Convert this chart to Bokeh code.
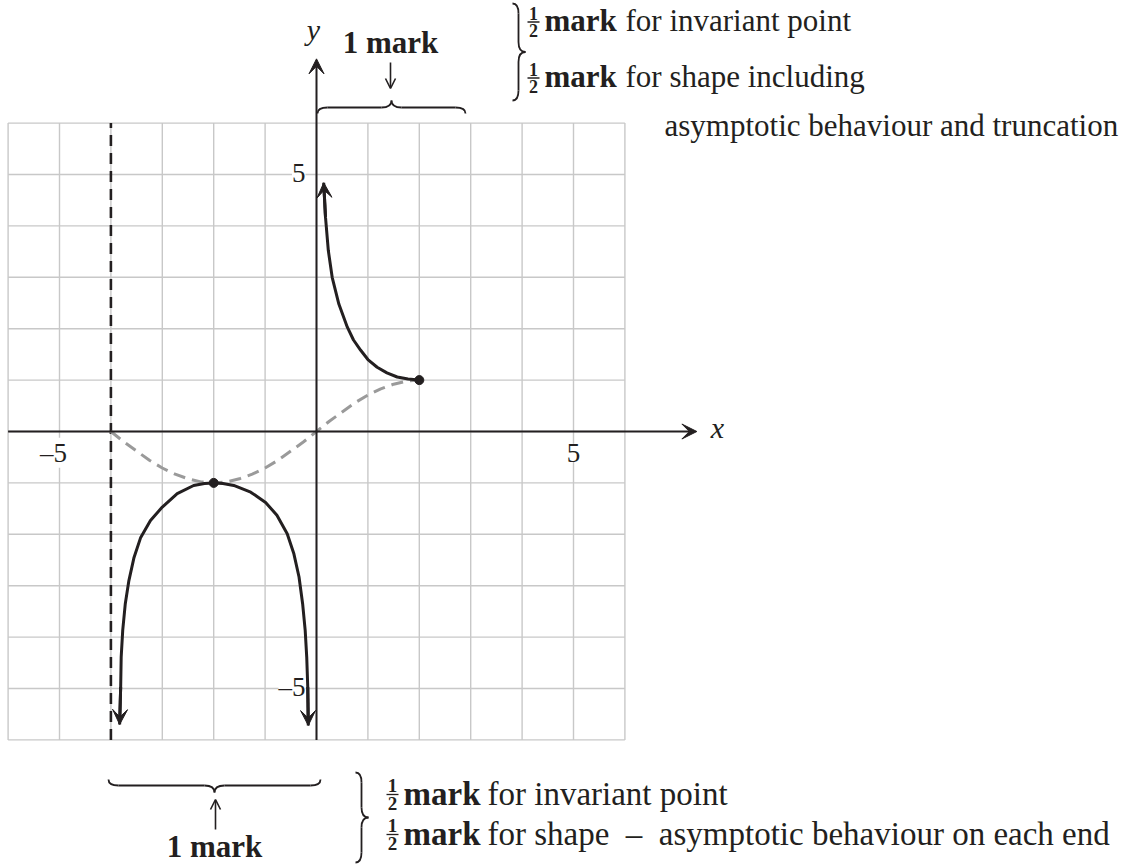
from bokeh.plotting import figure
from bokeh.models import Range1d, Label, Arrow, VeeHead, OpenHead
from bokeh.embed import file_html
from bokeh.resources import INLINE

# ---------------------------------------------------------------- data
grid_ticks = list(range(-6, 7))

x_tick_values = [-5, 5]
x_tick_text = ["–5", "5"]
y_tick_values = [5, -5]
y_tick_text = ["5", "–5"]

asymptote_x = -4

# original function (grey, dashed)
base_x = [-4, -3.75, -3.5, -3.25, -3, -2.75, -2.5, -2.25, -2, -1.75, -1.5, -1.25,
          -1, -0.75, -0.5, -0.25, 0, 0.25, 0.5, 0.75, 1, 1.25, 1.5, 1.75, 2]
base_y = [0, -0.2, -0.38, -0.56, -0.71, -0.83, -0.92, -0.98, -1, -0.98, -0.92, -0.83,
          -0.71, -0.56, -0.38, -0.2, 0, 0.2, 0.38, 0.56, 0.71, 0.83, 0.92, 0.98, 1]

# reciprocal graph, lower branch (between the asymptotes x = -4 and x = 0)
lower_x = [-3.83, -3.81, -3.80, -3.77, -3.72, -3.65, -3.55, -3.42, -3.23, -3.0,
           -2.71, -2.39, -2.18, -2.0, -1.82, -1.61, -1.28, -0.99, -0.77, -0.57,
           -0.44, -0.34, -0.27, -0.22, -0.19, -0.17, -0.16]
lower_y = [-5.7, -4.97, -4.39, -3.87, -3.35, -2.9, -2.45, -2.06, -1.73, -1.47,
           -1.21, -1.05, -1.01, -1.0, -1.01, -1.05, -1.18, -1.38, -1.63, -1.99,
           -2.38, -2.83, -3.35, -3.87, -4.39, -4.97, -5.72]

# reciprocal graph, upper branch (truncated at x = 2)
upper_x = [0.14, 0.175, 0.23, 0.305, 0.435, 0.6, 0.72, 0.86, 1.0, 1.18, 1.37, 1.57, 1.78, 2.0]
upper_y = [4.84, 4.17, 3.52, 3.0, 2.48, 2.03, 1.78, 1.58, 1.4, 1.25, 1.14, 1.06, 1.02, 1.0]

# invariant points
inv_x = [-2, 2]
inv_y = [-1, 1]

# ---------------------------------------------------------------- layout
W, H = 1127, 864
UNIT = 51.4          # pixels per unit on both axes
OX, OY = 316, 431    # canvas position of the origin

INK = "#231f20"
GRID = "#c8c8c8"
GREY = "#9a9a9a"
SERIF = "Liberation Serif"
NB = "\u00a0"


def dx(px):
    return (px - OX) / UNIT


def dy(py):
    return (OY - py) / UNIT


def px_x(x):
    return OX + x * UNIT


def px_y(y):
    return OY - y * UNIT


p = figure(width=W, height=H,
           x_range=Range1d(dx(0), dx(W)), y_range=Range1d(dy(H), dy(0)),
           output_backend="svg", toolbar_location=None,
           x_axis_location=None, y_axis_location=None,
           min_border=0, outline_line_color=None)
p.xgrid.visible = False
p.ygrid.visible = False

# grid
n = len(grid_ticks)
g0, g1 = grid_ticks[0], grid_ticks[-1]
p.segment(x0=grid_ticks, y0=[g0] * n, x1=grid_ticks, y1=[g1] * n,
          line_color=GRID, line_width=1.4, level="image")
p.segment(x0=[g0] * n, y0=grid_ticks, x1=[g1] * n, y1=grid_ticks,
          line_color=GRID, line_width=1.4, level="image")


def txt(px, py, s, size, style="normal", align="left", bg=None, level="annotation"):
    """Text placed by its baseline, given in canvas pixels."""
    lab = Label(x=dx(px), y=dy(py - 0.36 * size), text=s, text_font=SERIF,
                text_font_size=f"{size}px", text_font_style=style,
                text_align=align, text_baseline="alphabetic",
                text_color=INK, level=level)
    if bg:
        lab.background_fill_color = bg
    p.add_layout(lab)


# tick labels sit on white patches that interrupt the grid
for v, s in zip(x_tick_values, x_tick_text):
    txt(px_x(v) - (6 if v < 0 else 0), 462, s, 27, align="center", bg="white",
        level="underlay")
for v, s in zip(y_tick_values, y_tick_text):
    txt(305, px_y(v) + 8.5, s, 27, align="right", bg="white", level="underlay")

# vertical asymptote
p.line([asymptote_x, asymptote_x], [g0, g1], line_color=INK, line_width=2.6,
       line_dash="11 7")

# axes with arrow heads
p.add_layout(Arrow(x_start=g0, y_start=0, x_end=7.4, y_end=0, line_color=INK,
                   line_width=2,
                   end=VeeHead(size=15, fill_color=INK, line_color=INK)))
p.add_layout(Arrow(x_start=0, y_start=g0, x_end=0, y_end=7.25, line_color=INK,
                   line_width=2,
                   end=VeeHead(size=15, fill_color=INK, line_color=INK)))
txt(717, 438, "x", 30, style="italic", align="center")
txt(313, 40, "y", 30, style="italic", align="center")

# original graph and its reciprocal
p.line(base_x, base_y, line_color=GREY, line_width=3, line_dash="12 7")
p.line(lower_x, lower_y, line_color=INK, line_width=3, line_join="round")
p.line(upper_x, upper_y, line_color=INK, line_width=3, line_join="round")
p.scatter(inv_x, inv_y, size=9, fill_color=INK, line_color=INK)

for xs, ys, i in ((lower_x, lower_y, 0), (lower_x, lower_y, -1), (upper_x, upper_y, 0)):
    j = 1 if i == 0 else -2
    p.add_layout(Arrow(x_start=xs[j], y_start=ys[j], x_end=xs[i], y_end=ys[i],
                       line_color=INK, line_width=3,
                       end=VeeHead(size=15, fill_color=INK, line_color=INK)))


# curly braces built from quadratic pieces (pixel geometry -> data)
def brace(a0, a1, flat, out, curl, horizontal, r=10):
    m = (a0 + a1) / 2
    quads = [((a0, flat + curl), (a0 + r, flat), (a0, flat)),
             ((m - r, flat), (m, flat + out), (m, flat)),
             ((m, flat + out), (m + r, flat), (m, flat)),
             ((a1 - r, flat), (a1, flat + curl), (a1, flat))]
    lines = [((a0 + r, flat), (m - r, flat)), ((m + r, flat), (a1 - r, flat))]

    def cv(pt):
        a, c = pt
        return (dx(a), dy(c)) if horizontal else (dx(c), dy(a))

    qs = [tuple(cv(q) for q in quad) for quad in quads]
    p.quadratic(x0=[q[0][0] for q in qs], y0=[q[0][1] for q in qs],
                x1=[q[1][0] for q in qs], y1=[q[1][1] for q in qs],
                cx=[q[2][0] for q in qs], cy=[q[2][1] for q in qs],
                line_color=INK, line_width=1.8)
    ls = [tuple(cv(q) for q in ln) for ln in lines]
    p.segment(x0=[l[0][0] for l in ls], y0=[l[0][1] for l in ls],
              x1=[l[1][0] for l in ls], y1=[l[1][1] for l in ls],
              line_color=INK, line_width=1.8)


def half(cx, bar, size=18):
    """Stacked bold one-half centred on a fraction bar at canvas row `bar`."""
    txt(cx, bar - 2.5, "1", size, style="bold", align="center")
    txt(cx, bar + 2.5 + 0.68 * size, "2", size, style="bold", align="center")
    p.segment(x0=[dx(cx - 6)], y0=[dy(bar)], x1=[dx(cx + 6)], y1=[dy(bar)],
              line_color=INK, line_width=1.3)


def thin_arrow(px, py0, py1):
    p.add_layout(Arrow(x_start=dx(px), y_start=dy(py0), x_end=dx(px), y_end=dy(py1),
                       line_color=INK, line_width=1.6,
                       end=OpenHead(size=10, line_color=INK, line_width=1.6)))


# upper branch marking
txt(390, 53, "1 mark", 31, style="bold", align="center")
thin_arrow(390, 62, 88)
brace(317, 465, 107, -7, 6, True)
brace(3, 100, 518, 7, -6, False)
half(533, 21.5)
txt(544, 31, "mark", 31, style="bold")
txt(625, 31, "for invariant point", 31)
half(533, 77.5)
txt(544, 87, "mark", 31, style="bold")
txt(625, 87, "for shape including", 31)
txt(664, 136, "asymptotic behaviour and truncation", 31)

# lower branch marking
brace(108, 320, 785, 7, -6, True)
thin_arrow(215, 829, 799)
txt(214, 857, "1 mark", 31, style="bold", align="center")
brace(772, 862, 361, 7, -6, False)
half(392, 794, size=19)
txt(403, 805, "mark", 33, style="bold")
txt(487, 805, "for invariant point", 33)
half(392, 834, size=19)
txt(403, 845, "mark", 33, style="bold")
txt(487, 845, f"for shape{NB}{NB}–{NB}{NB}asymptotic behaviour on each end", 33)

open("out.html", "w").write(file_html(p, INLINE))
